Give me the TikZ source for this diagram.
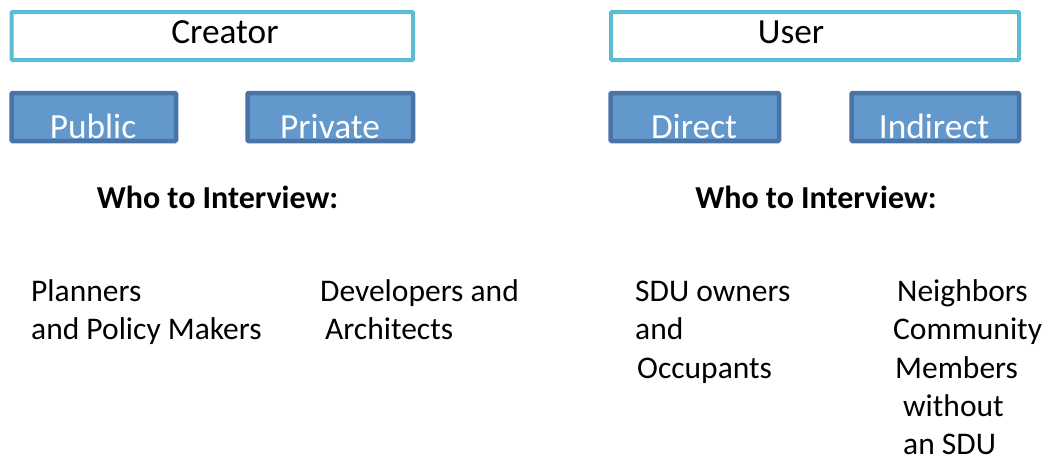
\documentclass[tikz,border=0pt]{standalone}
\usepackage{fontspec}
\setmainfont{Carlito}
\definecolor{topline}{HTML}{5CBCD5}
\definecolor{subfill}{HTML}{6398CD}
\definecolor{subline}{HTML}{4A74A6}
\begin{document}
\begin{tikzpicture}[x=1pt,y=-1pt,
  headbox/.style={draw=topline,line width=4pt,fill=white,rounded corners=1pt},
  subbox/.style={draw=subline,line width=4.5pt,fill=subfill,rounded corners=1pt},
  headtxt/.style={anchor=base,inner sep=0pt,font=\fontsize{35.3}{40}\selectfont,text=black},
  subtxt/.style={anchor=base,inner sep=0pt,font=\fontsize{35.3}{40}\selectfont,text=white},
  whotxt/.style={anchor=base,inner sep=0pt,font=\fontsize{32}{38}\selectfont\bfseries},
  listtxt/.style={anchor=base west,inner sep=0pt,font=\fontsize{31.5}{36}\selectfont}]
\useasboundingbox (0,0) rectangle (1047,459);
% header boxes
\draw[headbox] (11.5,12) rectangle (413,60);
\node[headtxt] (creator) at (225,43) {Creator};
\draw[headbox] (611,12) rectangle (1019,60);
\node[headtxt] (user) at (791,43) {User};
% sub boxes
\draw[subbox] (11.5,93) rectangle (176,141);
\node[subtxt] (public) at (93,138) {Public};
\draw[subbox] (247.5,93) rectangle (413,141);
\node[subtxt] (private) at (330,138) {Private};
\draw[subbox] (610.5,93) rectangle (779,141);
\node[subtxt] (direct) at (694,138) {Direct};
\draw[subbox] (851.5,93) rectangle (1019,141);
\node[subtxt] (indirect) at (934,138) {Indirect};
% who to interview
\node[whotxt] (who1) at (217.5,208) {Who to Interview:};
\node[whotxt] (who2) at (816,208) {Who to Interview:};
% lists
\node[listtxt] (p1) at (31,301) {Planners};
\node[listtxt] (p2) at (31,339) {and Policy Makers};
\node[listtxt] (d1) at (320,301) {Developers and};
\node[listtxt] (d2) at (325,339) {Architects};
\node[listtxt] (s1) at (635,301) {SDU owners};
\node[listtxt] (s2) at (635,339) {and};
\node[listtxt] (s3) at (637,378) {Occupants};
\node[listtxt] (n1) at (897,301) {Neighbors};
\node[listtxt] (n2) at (893,339) {Community};
\node[listtxt] (n3) at (895,378) {Members};
\node[listtxt] (n4) at (903,416) {without};
\node[listtxt] (n5) at (903,454) {an SDU};
\end{tikzpicture}
\end{document}
